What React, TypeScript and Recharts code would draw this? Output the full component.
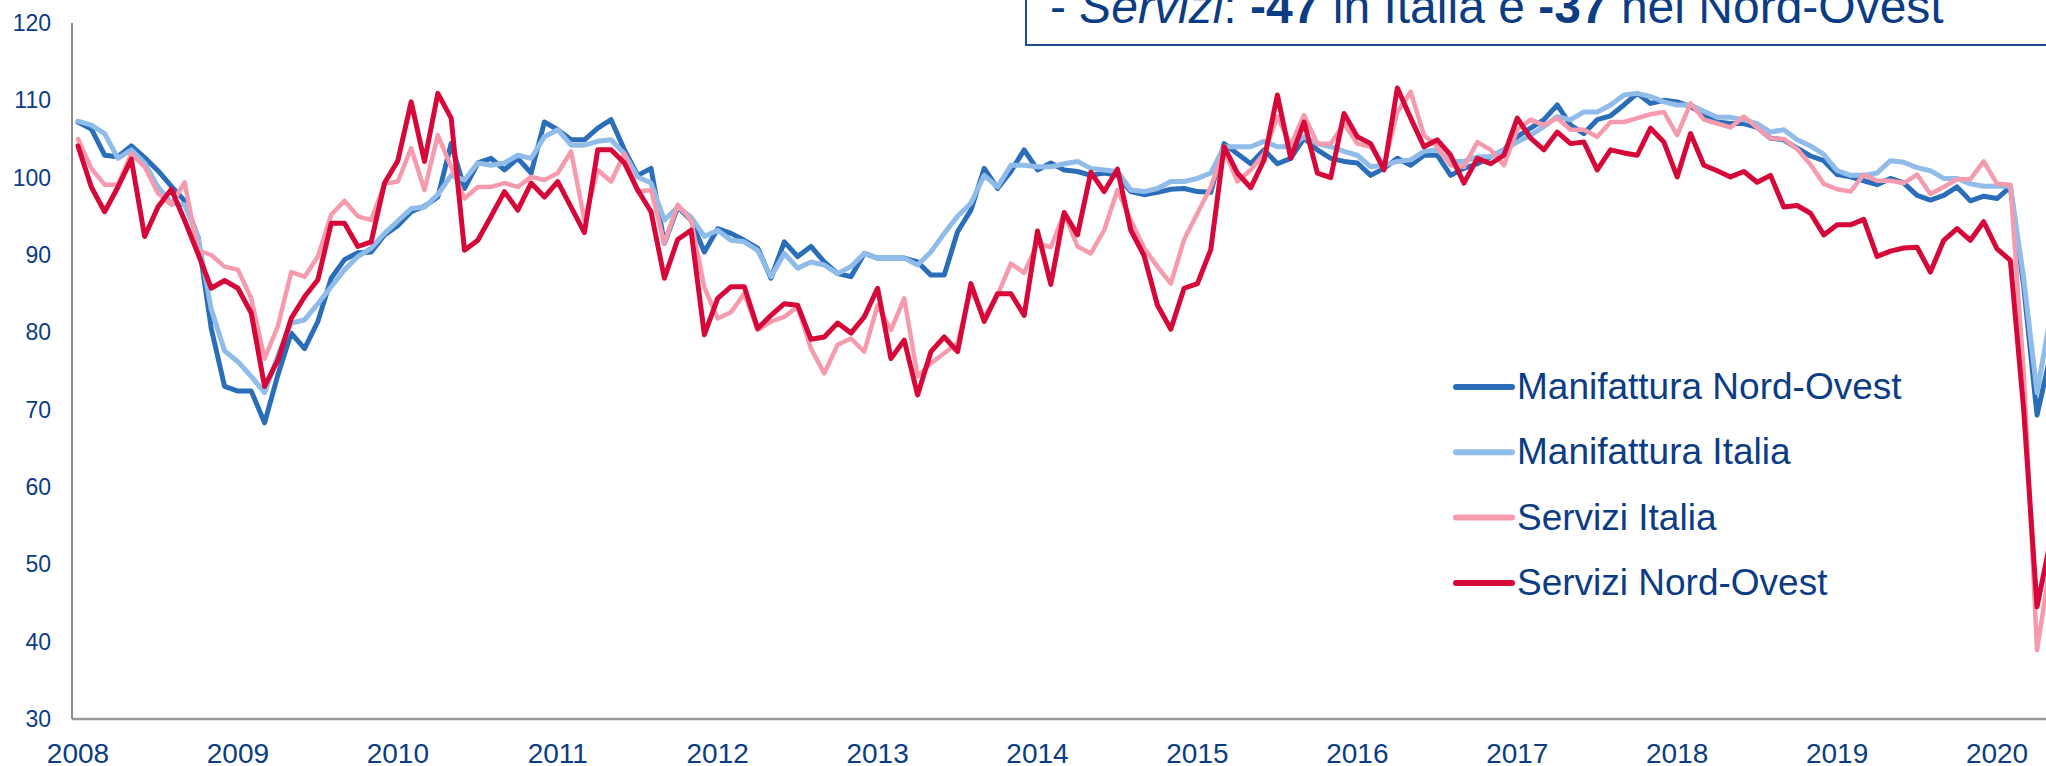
import React from 'react';
import { LineChart, Line, XAxis, YAxis, Legend } from 'recharts';

// Monthly index values, Jan 2008 (index 0) .. May 2020 (index 148)
const manifatturaNordOvest = [
  107.2, 106.3, 102.9, 102.7, 104.1, 102.6, 100.9, 98.9, 97.0, 92.3, 80.5, 73.0,
  72.4, 72.4, 68.3, 74.5, 79.9, 77.9, 81.4, 87.0, 89.4, 90.3, 90.4, 92.6,
  93.8, 95.6, 96.3, 97.5, 104.4, 98.6, 101.9, 102.5, 101.0, 102.5, 100.6, 107.2,
  106.2, 104.9, 104.9, 106.4, 107.5, 103.6, 100.3, 101.2, 91.5, 96.2, 94.5, 90.4,
  93.4, 92.8, 91.9, 90.9, 87.0, 91.7, 89.8, 91.1, 89.1, 87.6, 87.2, 90.2,
  89.6, 89.6, 89.6, 89.1, 87.4, 87.4, 93.0, 95.8, 101.2, 98.6, 100.8, 103.6,
  101.0, 101.9, 101.0, 100.8, 100.3, 100.6, 100.3, 98.2, 97.8, 98.1, 98.5, 98.6,
  98.2, 98.1, 104.4, 103.1, 101.8, 103.6, 101.8, 102.5, 105.1, 103.6, 102.5, 102.1,
  101.9, 100.3, 101.2, 102.5, 101.6, 102.9, 102.9, 100.3, 101.2, 101.8, 102.7, 103.6,
  105.3, 106.4, 107.5, 109.4, 106.8, 105.7, 107.5, 108.0, 109.4, 110.9, 109.6, 110.0,
  109.8, 109.2, 108.2, 107.2, 107.0, 107.0, 106.5, 105.1, 104.9, 103.8, 102.8, 102.2,
  100.4, 100.1, 99.6, 99.1, 99.9, 99.3, 97.7, 97.1, 97.7, 98.8, 97.0, 97.6,
  97.3, 98.8, 86.0, 69.3, 77.0,
];

const manifatturaItalia = [
  107.3, 106.8, 105.7, 102.5, 103.6, 101.9, 98.8, 96.7, 96.5, 92.4, 83.0, 77.6,
  76.2, 74.3, 72.2, 77.0, 81.2, 81.6, 83.7, 85.9, 88.1, 89.8, 90.9, 92.8,
  94.4, 96.0, 96.2, 97.8, 100.3, 99.7, 101.9, 101.6, 101.9, 102.9, 102.5, 105.3,
  106.2, 104.2, 104.2, 104.7, 104.9, 103.1, 100.1, 99.3, 94.5, 96.2, 94.9, 92.4,
  93.2, 91.9, 91.7, 90.6, 87.2, 90.2, 88.3, 89.1, 88.7, 87.6, 88.5, 90.2,
  89.6, 89.6, 89.6, 88.7, 90.4, 92.8, 95.0, 96.7, 100.3, 98.8, 101.6, 101.6,
  101.4, 101.4, 101.8, 102.1, 101.2, 101.0, 100.8, 98.4, 98.2, 98.6, 99.5, 99.5,
  99.9, 100.6, 104.0, 104.0, 104.0, 104.7, 104.0, 104.0, 105.3, 104.4, 104.0, 103.4,
  102.9, 101.4, 101.6, 102.1, 102.3, 103.4, 103.6, 102.1, 102.1, 102.7, 102.7, 103.6,
  104.6, 105.5, 106.6, 107.9, 107.5, 108.5, 108.5, 109.4, 110.7, 110.9, 110.5, 109.8,
  109.4, 109.4, 108.6, 107.8, 107.8, 107.5, 107.0, 105.9, 106.2, 104.9, 104.1, 103.0,
  100.9, 100.3, 100.3, 100.6, 102.2, 102.0, 101.3, 100.9, 99.9, 99.9, 99.2, 98.9,
  98.9, 98.9, 87.0, 72.2, 82.0,
];

const serviziItalia = [
  105.0, 101.2, 99.1, 99.1, 103.1, 101.4, 98.0, 96.5, 99.4, 90.6, 90.0, 88.5,
  88.1, 84.4, 76.6, 80.8, 87.8, 87.2, 89.8, 95.2, 97.0, 95.0, 94.5, 99.2,
  99.5, 103.8, 98.4, 105.5, 101.4, 97.3, 98.8, 98.8, 99.3, 98.8, 100.1, 99.7,
  100.6, 103.4, 94.5, 101.0, 99.5, 103.1, 98.2, 98.4, 91.5, 96.5, 94.5, 85.8,
  81.8, 82.6, 85.0, 80.3, 81.4, 82.0, 83.3, 77.9, 74.7, 78.4, 79.2, 77.5,
  83.5, 80.3, 84.4, 74.3, 76.0, 77.3, 78.6, 85.5, 82.0, 84.8, 88.9, 87.7,
  91.5, 91.0, 95.4, 91.1, 90.2, 93.2, 98.4, 94.5, 90.9, 88.5, 86.3, 92.0,
  95.4, 98.8, 103.6, 99.5, 101.0, 103.1, 107.9, 104.2, 108.1, 104.4, 104.4, 107.0,
  104.4, 104.0, 101.6, 108.5, 111.1, 105.5, 104.0, 101.6, 101.4, 104.6, 103.6, 101.6,
  106.2, 107.5, 106.8, 107.7, 106.2, 106.2, 105.3, 107.2, 107.2, 107.7, 108.2, 108.5,
  105.5, 109.6, 107.5, 107.0, 106.5, 107.9, 106.5, 105.1, 105.0, 103.7, 101.7, 99.2,
  98.5, 98.2, 100.4, 99.6, 99.6, 99.3, 100.4, 97.9, 98.8, 99.8, 99.8, 102.1,
  99.2, 99.1, 75.0, 38.9, 50.0,
];

const serviziNordOvest = [
  104.1, 98.8, 95.6, 98.8, 102.4, 92.4, 96.2, 98.5, 94.5, 90.2, 85.7, 86.7,
  85.7, 82.5, 73.0, 76.4, 81.8, 84.6, 86.8, 94.1, 94.1, 91.1, 91.7, 99.3,
  102.2, 109.8, 102.1, 110.9, 107.7, 90.6, 91.9, 95.0, 98.2, 95.8, 99.3, 97.5,
  99.5, 96.2, 92.9, 103.6, 103.6, 101.9, 98.4, 95.6, 87.0, 92.0, 93.2, 79.7,
  84.4, 85.9, 85.9, 80.5, 82.2, 83.7, 83.5, 79.1, 79.4, 81.2, 79.9, 82.0,
  85.7, 76.6, 79.0, 71.9, 77.5, 79.4, 77.5, 86.3, 81.4, 85.0, 85.0, 82.2,
  93.1, 86.2, 95.5, 92.6, 100.7, 98.2, 101.1, 93.2, 89.9, 83.5, 80.4, 85.7,
  86.3, 90.7, 104.0, 100.6, 98.7, 102.3, 110.7, 102.5, 107.2, 100.6, 100.0, 108.3,
  105.3, 104.4, 101.0, 111.6, 107.7, 104.0, 104.9, 102.9, 99.3, 102.5, 101.8, 102.9,
  107.7, 105.1, 103.6, 105.9, 104.4, 104.6, 101.0, 103.6, 103.2, 102.9, 106.4, 104.6,
  100.1, 105.7, 101.6, 100.9, 100.1, 100.8, 99.4, 100.3, 96.2, 96.4, 95.4, 92.6,
  93.9, 93.9, 94.6, 89.8, 90.5, 90.9, 91.0, 87.8, 91.9, 93.4, 91.9, 94.3,
  90.8, 89.3, 70.0, 44.5, 53.0,
];

const years = ['2008', '2009', '2010', '2011', '2012', '2013', '2014', '2015', '2016', '2017', '2018', '2019', '2020'];
const yTicks = [30, 40, 50, 60, 70, 80, 90, 100, 110, 120];

const seriesNames = ['Manifattura Nord-Ovest', 'Manifattura Italia', 'Servizi Italia', 'Servizi Nord-Ovest'];
const seriesKeys = ['mno', 'mi', 'si', 'sno'];
const seriesColors = ['#2A6DB8', '#90BCEA', '#F69AAE', '#D6083A'];
const seriesWidths = [5, 5, 4.5, 5];

const NAVY = '#0B3C84';
const FONT = '"Liberation Sans", Arial, Helvetica, sans-serif';

const data = manifatturaNordOvest.map((v, i) => ({
  m: i,
  mno: v,
  mi: manifatturaItalia[i],
  si: serviziItalia[i],
  sno: serviziNordOvest[i],
}));

const xTicks = years.map((_, i) => i * 12);

const renderLegend = () => (
  <svg width={520} height={270} style={{ display: 'block' }}>
    {seriesNames.map((name, i) => {
      const y = 37 + i * 65.3;
      return (
        <g key={name}>
          <line x1={6} x2={62} y1={y} y2={y} stroke={seriesColors[i]} strokeWidth={6} strokeLinecap="round" />
          <text x={67} y={y + 12} fontSize={37} fill={NAVY} fontFamily={FONT}>
            {name}
          </text>
        </g>
      );
    })}
  </svg>
);

export default function App() {
  return (
    <div
      style={{
        position: 'absolute',
        left: 0,
        top: 0,
        width: 2046,
        height: 766,
        overflow: 'hidden',
        background: '#ffffff',
      }}
    >
      <LineChart
        width={2080}
        height={766}
        data={data}
        margin={{ top: 23, right: 3, bottom: 0, left: 0 }}
      >
        <XAxis
          dataKey="m"
          type="number"
          domain={[-0.45, 150]}
          ticks={xTicks}
          tickFormatter={(v: number) => years[Math.round(v / 12)]}
          height={47}
          tickLine={false}
          tickSize={0}
          tickMargin={24}
          axisLine={{ stroke: '#9A9A94', strokeWidth: 2.5 }}
          tick={{ fill: NAVY, fontSize: 28, fontFamily: FONT }}
          interval={0}
          allowDataOverflow
        />
        <YAxis
          type="number"
          domain={[30, 120]}
          ticks={yTicks}
          width={72}
          tickLine={false}
          tickSize={0}
          tickMargin={21}
          axisLine={{ stroke: '#8C8C8C', strokeWidth: 2 }}
          tick={{ fill: NAVY, fontSize: 23, fontFamily: FONT }}
          interval={0}
          allowDataOverflow
        />
        <Legend
          content={renderLegend}
          layout="vertical"
          align="center"
          verticalAlign="middle"
          wrapperStyle={{ left: 1450, top: 350, width: 520, height: 270 }}
        />
        {seriesKeys.map((k, i) => (
          <Line
            key={k}
            type="linear"
            dataKey={k}
            name={seriesNames[i]}
            stroke={seriesColors[i]}
            strokeWidth={seriesWidths[i]}
            strokeLinejoin="round"
            strokeLinecap="round"
            dot={false}
            activeDot={false}
            isAnimationActive={false}
          />
        ))}
      </LineChart>
      <svg
        width={2046}
        height={766}
        style={{ position: 'absolute', left: 0, top: 0, pointerEvents: 'none' }}
      >
        <rect x={1026} y={-20} width={1100} height={65} fill="#ffffff" stroke="#1E4E8C" strokeWidth={2} />
        <text x={1050} y={23} fontSize={48} fill={NAVY} fontFamily={FONT} style={{ whiteSpace: 'pre' }}>
          <tspan>- </tspan>
          <tspan fontStyle="italic">Servizi</tspan>
          <tspan>: </tspan>
          <tspan fontWeight="bold">-47</tspan>
          <tspan> in Italia e </tspan>
          <tspan fontWeight="bold">-37</tspan>
          <tspan> nel Nord-Ovest</tspan>
        </text>
      </svg>
    </div>
  );
}
